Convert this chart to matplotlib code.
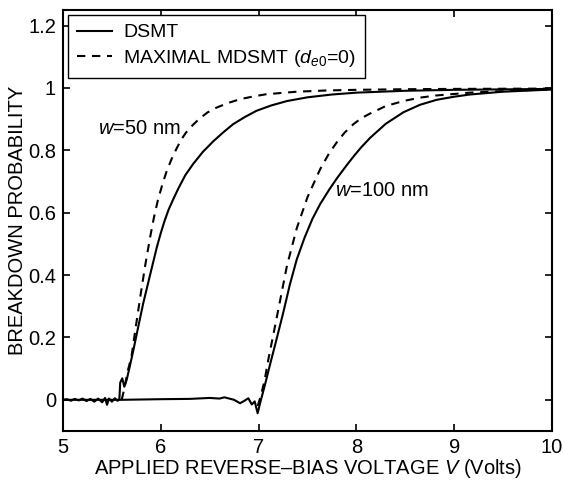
import matplotlib
matplotlib.use("Agg")
import matplotlib.pyplot as plt
from matplotlib.lines import Line2D

# ---- data ----
v_dsmt50 = [5.0, 5.04, 5.08, 5.12, 5.16, 5.2, 5.24, 5.28, 5.32, 5.36, 5.40, 5.43, 5.45, 5.47,
            5.50, 5.53, 5.556, 5.576, 5.585, 5.606, 5.627, 5.651, 5.685, 5.72, 5.77, 5.82,
            5.89, 5.96, 6.0, 6.04, 6.08, 6.13, 6.18, 6.25, 6.33, 6.43, 6.54, 6.64, 6.74,
            6.86, 6.98, 7.13, 7.29, 7.5, 7.75, 8.0, 8.5, 9.0, 10.0]
p_dsmt50 = [0.0, 0.002, -0.003, 0.003, -0.002, 0.004, -0.004, 0.003, -0.006, 0.004, -0.008,
            0.006, -0.016, 0.004, -0.006, 0.005, -0.003, 0.0, 0.055, 0.069, 0.042, 0.064,
            0.11, 0.16, 0.235, 0.309, 0.40, 0.49, 0.535, 0.575, 0.61, 0.645, 0.678, 0.72,
            0.756, 0.795, 0.83, 0.858, 0.884, 0.907, 0.927, 0.944, 0.958, 0.97, 0.979,
            0.985, 0.991, 0.994, 0.997]

v_max50 = [5.60, 5.63, 5.66, 5.70, 5.74, 5.79, 5.84, 5.89, 5.93, 5.97, 6.02, 6.06, 6.11,
           6.16, 6.21, 6.26, 6.33, 6.40, 6.48, 6.57, 6.69, 6.81, 6.95, 7.08, 7.39, 7.7,
           8.0, 8.5, 9.0, 10.0]
p_max50 = [0.0, 0.04, 0.09, 0.138, 0.225, 0.33, 0.43, 0.52, 0.585, 0.64, 0.695, 0.733,
           0.772, 0.805, 0.835, 0.858, 0.882, 0.903, 0.922, 0.937, 0.952, 0.964, 0.973,
           0.98, 0.988, 0.992, 0.994, 0.996, 0.997, 0.998]

v_dsmt100 = [5.0, 5.6, 6.0, 6.3, 6.5, 6.6, 6.65, 6.7, 6.75, 6.81, 6.85, 6.895, 6.93, 6.96,
             6.99, 7.02, 7.065, 7.12, 7.18, 7.25, 7.32, 7.39, 7.47, 7.55, 7.63, 7.72, 7.8,
             7.9, 7.97, 8.05, 8.14, 8.3, 8.48, 8.65, 8.82, 9.0, 9.16, 9.5, 10.0]
p_dsmt100 = [0.0, 0.0, 0.002, 0.003, 0.006, 0.004, 0.008, 0.004, 0.0, -0.011, -0.004, 0.005,
             -0.015, -0.005, -0.043, -0.005, 0.048, 0.117, 0.19, 0.277, 0.37, 0.45, 0.52,
             0.58, 0.628, 0.673, 0.71, 0.752, 0.78, 0.81, 0.84, 0.885, 0.922, 0.946, 0.962,
             0.972, 0.979, 0.988, 0.995]

v_max100 = [6.99, 7.02, 7.06, 7.1, 7.18, 7.29, 7.39, 7.5, 7.63, 7.72, 7.8, 7.88, 7.97, 8.05,
            8.14, 8.3, 8.48, 8.65, 8.82, 9.16, 9.5, 10.0]
p_max100 = [-0.02, 0.01, 0.06, 0.13, 0.255, 0.43, 0.55, 0.65, 0.74, 0.79, 0.826, 0.857,
            0.884, 0.903, 0.918, 0.942, 0.958, 0.969, 0.976, 0.985, 0.99, 0.996]

legend_labels = ["DSMT", r"MAXIMAL MDSMT ($d_{e0}$=0)"]
xticks = [5, 6, 7, 8, 9, 10]
yticks = [0, 0.2, 0.4, 0.6, 0.8, 1.0, 1.2]
ytick_labels = ["0", "0.2", "0.4", "0.6", "0.8", "1", "1.2"]

# ---- style ----
plt.rcParams['font.family'] = ['Liberation Sans', 'DejaVu Sans']
plt.rcParams['mathtext.fontset'] = 'custom'
plt.rcParams['mathtext.rm'] = 'Liberation Sans'
plt.rcParams['mathtext.it'] = 'Liberation Sans:italic'
FS = 14.5
LFS = 14

fig = plt.figure(figsize=(5.63, 4.83), dpi=100)
ax = fig.add_axes([63/563, 1 - 431/483, (552-63)/563, (431-10)/483])

lw = 1.5
dash = (0, (4, 3.2))
ax.plot(v_dsmt50, p_dsmt50, color='black', lw=lw, solid_joinstyle='round')
ax.plot(v_dsmt100, p_dsmt100, color='black', lw=lw, solid_joinstyle='round')
ax.plot(v_max50, p_max50, color='black', lw=lw, linestyle=dash)
ax.plot(v_max100, p_max100, color='black', lw=lw, linestyle=dash)

ax.set_xlim(5, 10)
ax.set_ylim(-0.1, 1.25)
ax.set_xticks(xticks)
ax.set_xticklabels([str(t) for t in xticks])
ax.set_yticks(yticks)
ax.set_yticklabels(ytick_labels)
ax.tick_params(direction='in', length=5, width=1.2, top=True, right=True,
               labelsize=FS, pad=5)
for s in ax.spines.values():
    s.set_linewidth(1.5)

ax.set_xlabel(r"APPLIED REVERSE–BIAS VOLTAGE $V$ (Volts)", fontsize=FS, labelpad=0)
ax.set_ylabel("BREAKDOWN PROBABILITY", fontsize=FS, labelpad=1)

ax.text(5.36, 0.87, r"$w$=50 nm", fontsize=FS, va='center', ha='left')
ax.text(7.78, 0.67, r"$w$=100 nm", fontsize=FS, va='center', ha='left')

handles = [Line2D([], [], color='black', lw=lw),
           Line2D([], [], color='black', lw=lw, linestyle=dash)]
leg = ax.legend(handles, legend_labels, loc='upper left',
                bbox_to_anchor=(5/489, 1 - 5/421), borderaxespad=0,
                fontsize=LFS, frameon=True, fancybox=False, framealpha=1,
                handlelength=1.8, handletextpad=0.6, borderpad=0.45,
                labelspacing=0.35)
leg.get_frame().set_edgecolor('black')
leg.get_frame().set_linewidth(1.0)

fig.savefig("out.png", dpi=100)
